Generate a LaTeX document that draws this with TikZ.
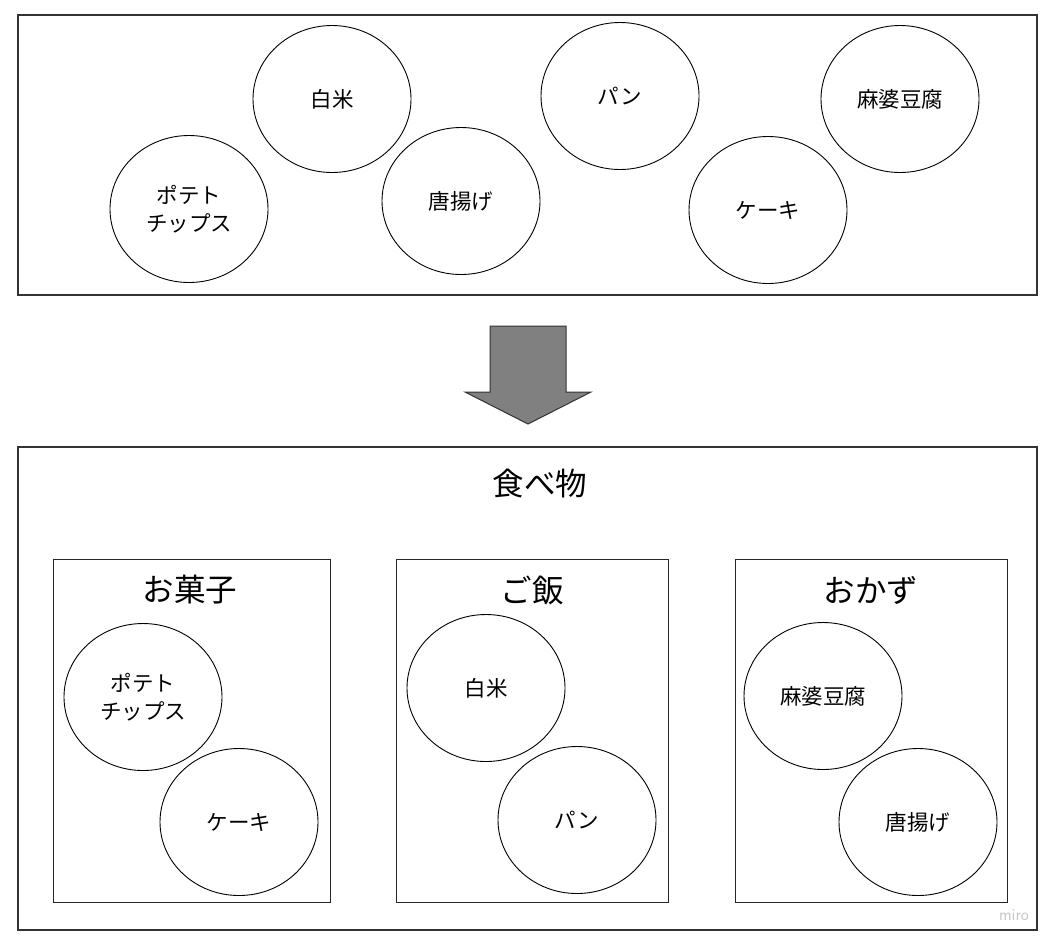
\documentclass[tikz,border=0pt]{standalone}
\usepackage{fontspec}
\setmainfont{Noto Sans CJK JP}
\usetikzlibrary{shapes.geometric, arrows.meta}
\tikzset{
  food/.style={draw, ellipse, line width=0.9pt, minimum width=158pt, minimum height=147pt,
    inner sep=0pt, align=center, font=\fontsize{21.5}{28}\selectfont},
  frame/.style={draw=black!80, line width=1.2pt},
  group/.style={draw=black!85, line width=1pt},
  grouptitle/.style={font=\fontsize{31.5}{36}\selectfont},
}

\begin{document}
\begin{tikzpicture}[x=1pt, y=-1pt]
    \useasboundingbox (0,0) rectangle (1056,946);
    % before
    \draw[frame] (18,15) rectangle (1037,295);
    \node[food] (rice1) at (332,99) {白米};
    \node[food] (chips1) at (189,209) {ポテト\\チップス};
    \node[food] (karaage1) at (461,201) {唐揚げ};
    \node[food] (bread1) at (620,96) {パン};
    \node[food] (cake1) at (768,210) {ケーキ};
    \node[food] (mapo1) at (900,99) {麻婆豆腐};
    % arrow
    \filldraw[draw=black!80, fill=black!50, line width=1pt]
    (490,326) -- (566,326) -- (566,392) -- (591,392) -- (528,424)
    -- (465,392) -- (490,392) -- cycle;
    % after
    \draw[frame] (18,447) rectangle (1037,930);
    \node[font=\fontsize{31.5}{36}\selectfont] (food) at (540,484) {食べ物};
    \draw[group] (53,559) rectangle (330,902);
    \draw[group] (396,559) rectangle (668,902);
    \draw[group] (735,559) rectangle (1007,902);
    \node[grouptitle] (snack) at (190,590) {お菓子};
    \node[grouptitle] (meal) at (532,590) {ご飯};
    \node[grouptitle] (dish) at (871,590) {おかず};
    \node[food] (chips2) at (143,697) {ポテト\\チップス};
    \node[food] (cake2) at (239,822) {ケーキ};
    \node[food] (rice2) at (486,688) {白米};
    \node[food] (bread2) at (577,820) {パン};
    \node[food] (mapo2) at (823,696) {麻婆豆腐};
    \node[food] (karaage2) at (918,822) {唐揚げ};
    \node[text=black!22, font=\fontsize{17}{19}\sffamily] (miro) at (1014,915) {miro};
\end{tikzpicture}
\end{document}
